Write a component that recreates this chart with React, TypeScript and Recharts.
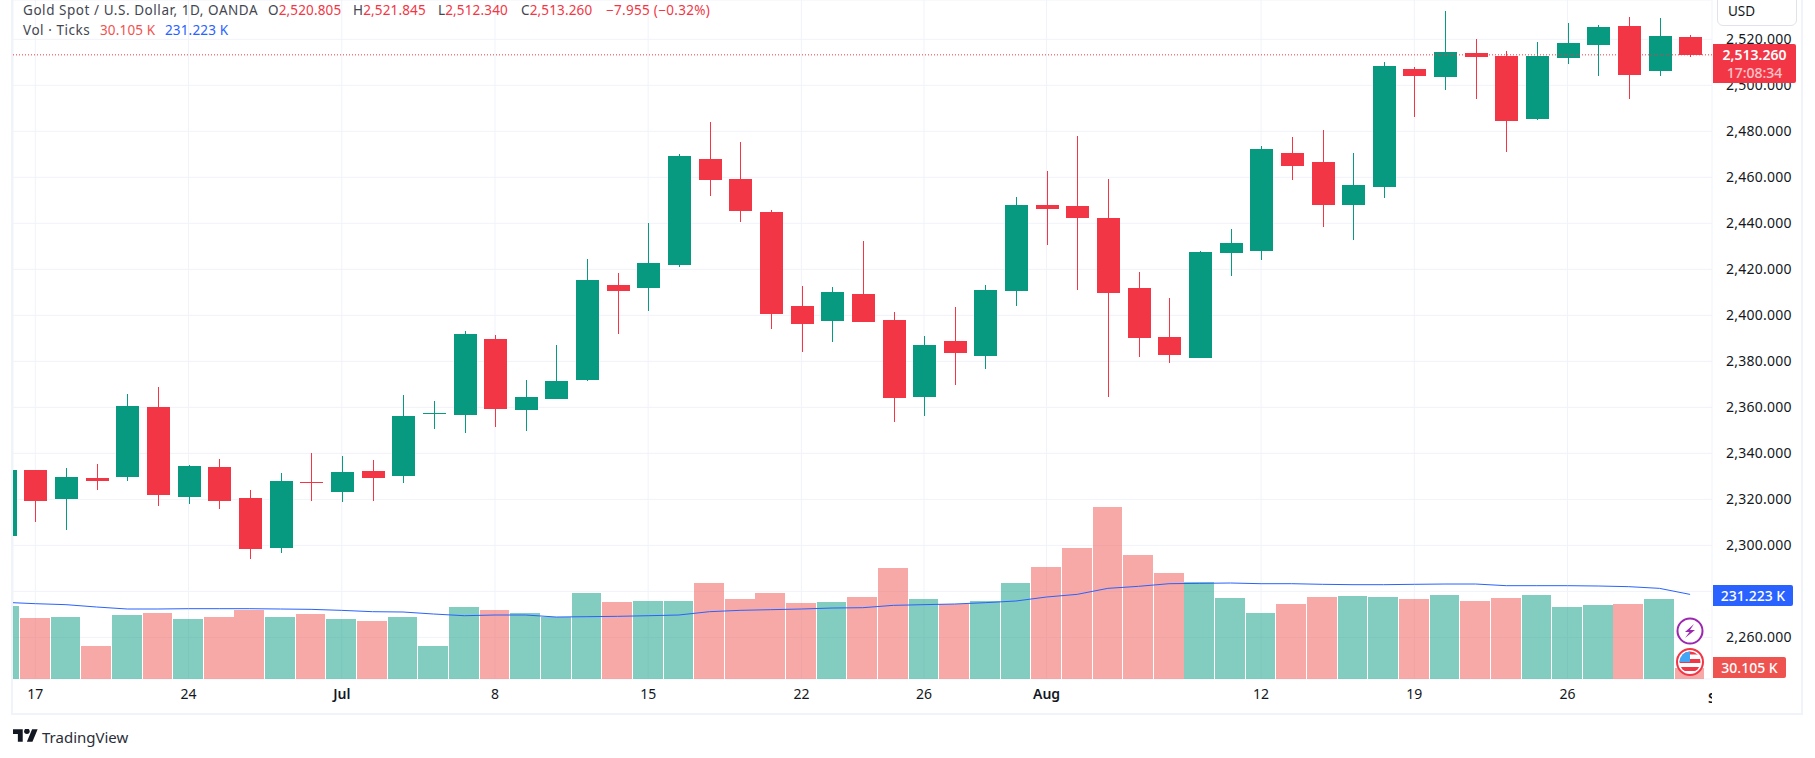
import React from 'react';
import {
    ComposedChart, Bar, Line, XAxis, YAxis, CartesianGrid, ReferenceLine, Cell,
} from 'recharts';

const opens = [2304.1, 2332.8, 2320.1, 2329.3, 2329.7, 2360.1, 2321, 2334, 2320.6, 2298.8, 2327.5, 2323.2, 2332.3, 2330.1, 2357.1, 2356.7, 2389.7, 2358.8, 2363.6, 2371.9, 2413.3, 2412, 2422, 2468.1, 2459.4, 2445, 2404.2, 2397.7, 2409.4, 2398.1, 2364.6, 2389, 2382.5, 2410.7, 2448.1, 2447.7, 2442.5, 2412, 2390.7, 2381.6, 2427.1, 2428, 2470.6, 2466.7, 2448, 2455.8, 2507.1, 2503.6, 2514.1, 2512.8, 2485.4, 2511.9, 2517.5, 2525.8, 2506.2, 2520.805];
const highs = [2333.5, 2332.9, 2333.6, 2335.4, 2365.8, 2368.8, 2334.9, 2337.5, 2324, 2331.4, 2340, 2338.8, 2337, 2365.4, 2362.8, 2393.2, 2391.4, 2371.9, 2387.1, 2424.5, 2418.6, 2440.3, 2470.3, 2484.2, 2475.5, 2446, 2412.9, 2412.5, 2432.5, 2401.6, 2391.2, 2403.8, 2413.3, 2451.6, 2462.9, 2478.1, 2459.4, 2419, 2407.7, 2428, 2437.5, 2473.6, 2477.5, 2480.6, 2470.6, 2510.1, 2508, 2532.3, 2520.1, 2514.9, 2518.8, 2527.1, 2526.2, 2529.7, 2529.3, 2521.845];
const lows = [2304, 2310.1, 2306.7, 2324, 2328, 2317.1, 2318, 2315.8, 2294, 2296.7, 2319.3, 2318.8, 2319.3, 2327.1, 2350.6, 2348.8, 2351.4, 2349.7, 2363.6, 2371.4, 2392, 2402, 2420.9, 2452, 2440.7, 2394.2, 2384.2, 2388.6, 2397.2, 2353.8, 2356.4, 2369.9, 2376.8, 2404.2, 2430.7, 2411.2, 2364.6, 2382, 2379.4, 2381.4, 2417.1, 2424.1, 2458.8, 2438.4, 2432.8, 2451, 2486.2, 2498, 2494.1, 2471, 2484.9, 2509.3, 2504.1, 2494.1, 2504.1, 2512.34];
const closes = [2332.8, 2319.3, 2329.7, 2328, 2360.6, 2321.9, 2334.5, 2319.3, 2298.4, 2328, 2327.1, 2331.9, 2329.3, 2356.2, 2357.5, 2391.9, 2359.3, 2364.5, 2371.4, 2415.5, 2410.7, 2422.9, 2469.4, 2459, 2445.5, 2400.7, 2396.4, 2410.3, 2397.2, 2364.2, 2387.2, 2383.8, 2411.2, 2448.1, 2446.4, 2442.5, 2409.9, 2390.3, 2382.9, 2427.5, 2431.4, 2472.3, 2464.9, 2448, 2456.7, 2508.4, 2504.1, 2514.5, 2512.3, 2484.5, 2512.8, 2518.4, 2525.4, 2504.5, 2521.4, 2513.26];
const volumes = [199.5, 166.7, 169.4, 90.2, 174.9, 180.4, 164, 169.4, 188.6, 169.4, 177.6, 164, 158.5, 169.4, 90.2, 196.8, 188.6, 180.4, 170.4, 235, 210.4, 213.2, 213.2, 262.4, 218.6, 235, 207.7, 210.4, 224.1, 303.4, 218.6, 205, 213.2, 262.4, 306.1, 358, 470, 338.9, 289.7, 265.1, 221.4, 180.4, 205, 224.1, 226.8, 224.1, 218.6, 229.6, 213.2, 221.4, 229.6, 196.8, 202.2, 205, 218.6, 30.105];
const volumeMa = [209.5, 205.9, 203.2, 196.8, 191.3, 191.3, 192.2, 192.2, 192.2, 191.3, 190.4, 187.6, 184, 183.1, 177.6, 173, 174.9, 174.9, 169.4, 170.3, 171.3, 173, 174.9, 184, 187.7, 189.5, 191.3, 194, 194.9, 201.3, 203.2, 205, 208.6, 213.2, 224.1, 231.4, 247.8, 253.3, 260.5, 261.4, 262.4, 260.5, 260.5, 258.8, 257.8, 257.8, 258.8, 259.6, 259.6, 255.1, 255.1, 255.1, 254.2, 252.4, 247.8, 231.223];

const priceTicks = [2260, 2280, 2300, 2320, 2340, 2360, 2380, 2400, 2420, 2440, 2460, 2480, 2500, 2520];
const dateTicks = [1, 6, 11, 16, 21, 26, 30, 34, 41, 46, 51];
const dateLabels = ['17', '24', 'Jul', '8', '15', '22', '26', 'Aug', '12', '19', '26'];
const monthLabels = ['Jul', 'Aug'];
const xDomain = [0.272, 55.715];

const GREEN = '#089981';
const RED = '#f23645';
const VOL_GREEN = 'rgba(8,153,129,0.5)';
const VOL_RED = 'rgba(239,83,80,0.5)';
const GRID = '#f0f3fa';
const FONT = '"Noto Sans", sans-serif';
const LEGEND_TEXT = '#434651';

const data = opens.map((open, i) => ({
    idx: i,
    open,
    high: highs[i],
    low: lows[i],
    close: closes[i],
    range: [lows[i], highs[i]],
    volume: volumes[i],
    ma: volumeMa[i],
}));

function Candle(props: any) {
    const { x, y, width, height, payload } = props;
    const color = payload.close < payload.open ? RED : GREEN;
    const k = height / (payload.high - payload.low);
    const bodyTop = y + (payload.high - Math.max(payload.open, payload.close)) * k;
    const bodyHeight = Math.max(Math.abs(payload.open - payload.close) * k, 1);
    const cx = Math.round(x + width / 2);
    return (
        <g shapeRendering="crispEdges">
            <rect x={cx} y={y} width={1} height={height} fill={color} />
            <rect x={cx - 11} y={bodyTop} width={23} height={bodyHeight} fill={color} />
        </g>
    );
}

function VolumeBar(props: any) {
    const { x, y, width, height, fill } = props;
    return <rect x={x} y={y} width={width} height={height} fill={fill} shapeRendering="crispEdges" />;
}

function DateTick(props: any) {
    const { x, y, payload } = props;
    const label = dateLabels[dateTicks.indexOf(payload.value)];
    return (
        <text x={x} y={y + 12} textAnchor="middle" fontFamily={FONT} fontSize={14} fill="#131722"
            fontWeight={monthLabels.includes(label) ? 600 : 400}>
            {label}
        </text>
    );
}

const tag = (left: number, top: number, width: number, height: number, bg: string): React.CSSProperties => ({
    position: 'absolute', left, top, width, height, background: bg, borderRadius: '0 2px 2px 0',
    color: '#fff', fontFamily: FONT, fontSize: 14, fontWeight: 500, textAlign: 'center',
});

const legend = (left: number, top: number, color: string, spacing = 0.15): React.CSSProperties => ({
    position: 'absolute', left, top, color, fontFamily: FONT, fontSize: 13.5, lineHeight: '20px', whiteSpace: 'nowrap', letterSpacing: spacing,
});

export default function App() {
    return (
        <div style={{ position: 'absolute', left: 0, top: 0, width: 1815, height: 758, background: '#fff', overflow: 'hidden' }}>
            <ComposedChart width={1815} height={758} data={data} margin={{ top: 0, left: 13, right: 13, bottom: 45 }}>
                <CartesianGrid stroke={GRID} yAxisId="price" />
                <XAxis dataKey="idx" type="number" domain={xDomain} allowDataOverflow ticks={dateTicks}
                    height={34} axisLine={false} tickLine={false} tick={<DateTick />} interval={0} />
                <XAxis xAxisId="vol" dataKey="idx" type="number" domain={xDomain} allowDataOverflow hide height={34} />
                <YAxis yAxisId="price" orientation="right" domain={[2241.9, 2537.1]} allowDataOverflow ticks={priceTicks}
                    width={90} axisLine={false} tickLine={false} interval={0} tickMargin={8}
                    tick={{ fill: '#131722', fontSize: 14, fontFamily: FONT, letterSpacing: 0.25 }}
                    tickFormatter={(v: number) => v.toLocaleString('en-US', { minimumFractionDigits: 3 })} />
                <YAxis yAxisId="vol" hide domain={[0, 1856]} allowDataOverflow />
                <Bar xAxisId="vol" yAxisId="vol" dataKey="volume" barSize={29.7} isAnimationActive={false} shape={<VolumeBar />}>
                    {data.map((d) => (
                        <Cell key={d.idx} fill={d.close < d.open ? VOL_RED : VOL_GREEN} />
                    ))}
                </Bar>
                <Line xAxisId="vol" yAxisId="vol" dataKey="ma" stroke="#2962ff" strokeWidth={1} dot={false} isAnimationActive={false} />
                <ReferenceLine yAxisId="price" y={2513.26} stroke={RED} strokeDasharray="1 2" />
                <Bar yAxisId="price" dataKey="range" barSize={23} isAnimationActive={false} shape={<Candle />} />
            </ComposedChart>

            <div style={{ position: 'absolute', left: 11, top: -2, width: 1788, height: 713, border: `2px solid ${GRID}`, pointerEvents: 'none' }} />

            <div style={legend(23, 0, LEGEND_TEXT, 0.55)}>Gold Spot / U.S. Dollar, 1D, OANDA</div>
            <div style={legend(268, 0, LEGEND_TEXT)}>O<span style={{ color: RED }}>2,520.805</span></div>
            <div style={legend(353, 0, LEGEND_TEXT)}>H<span style={{ color: RED }}>2,521.845</span></div>
            <div style={legend(438, 0, LEGEND_TEXT)}>L<span style={{ color: RED }}>2,512.340</span></div>
            <div style={legend(521, 0, LEGEND_TEXT)}>C<span style={{ color: RED }}>2,513.260</span></div>
            <div style={legend(606, 0, RED, 0.3)}>−7.955 (−0.32%)</div>
            <div style={legend(23, 20, LEGEND_TEXT, 0.55)}>Vol · Ticks</div>
            <div style={legend(100, 20, '#ef5350')}>30.105 K</div>
            <div style={legend(165, 20, '#2962ff')}>231.223 K</div>

            <div style={{ position: 'absolute', left: 1717, top: -12, width: 78, height: 36, border: '1.5px solid #e0e3eb', borderRadius: 6, background: '#fff', color: '#131722', fontFamily: FONT, fontSize: 13.5 }}>
                <span style={{ position: 'absolute', left: 10, top: 13 }}>USD</span>
            </div>

            <div style={tag(1713, 44, 83, 39, RED)}>
                <div style={{ fontWeight: 600, lineHeight: '19px', marginTop: 1 }}>2,513.260</div>
                <div style={{ lineHeight: '18px', opacity: 0.7 }}>17:08:34</div>
            </div>
            <div style={{ ...tag(1713, 585, 80, 21, '#2962ff'), lineHeight: '21px' }}>231.223 K</div>
            <div style={{ ...tag(1713, 657, 73, 21, '#ef5350'), lineHeight: '21px' }}>30.105 K</div>

            <div style={{ position: 'absolute', left: 1700, top: 688, width: 12, height: 20, overflow: 'hidden', fontFamily: FONT, fontSize: 14, color: '#131722', fontWeight: 600 }}>
                <span style={{ position: 'absolute', left: 8 }}>Sep</span>
            </div>

            <svg width={40} height={72} style={{ position: 'absolute', left: 1670, top: 612 }}>
                <circle cx={20} cy={19} r={12.5} fill="#fff" stroke="#9c27b0" strokeWidth={2} />
                <path d="M24 12 L15 20 L19.5 20 L15 26 L25 18 L20 18 Z" fill="#9c27b0" />
                <circle cx={20} cy={50} r={13} fill="#fff" stroke={RED} strokeWidth={2} />
                <clipPath id="flag"><circle cx={20} cy={50} r={10.5} /></clipPath>
                <g clipPath="url(#flag)">
                    <rect x={9} y={39} width={22} height={22} fill="#fff" />
                    <rect x={9} y={39} width={22} height={3.5} fill={RED} />
                    <rect x={9} y={47} width={22} height={4} fill={RED} />
                    <rect x={9} y={55} width={22} height={4} fill={RED} />
                    <rect x={9} y={39} width={11} height={11} fill="#42a5f5" />
                </g>
            </svg>

            <svg width={25} height={13} viewBox="0 4 36 18" style={{ position: 'absolute', left: 13, top: 729 }}>
                <path d="M14 22H7V11H0V4h14v18zM28 22h-8l7.5-18h8L28 22z" fill="#131722" />
                <circle cx={20} cy={7} r={4} fill="#131722" />
            </svg>
            <div style={{ position: 'absolute', left: 42, top: 726, fontFamily: FONT, fontSize: 15, lineHeight: '22px', color: '#2a2e39' }}>TradingView</div>
        </div>
    );
}
